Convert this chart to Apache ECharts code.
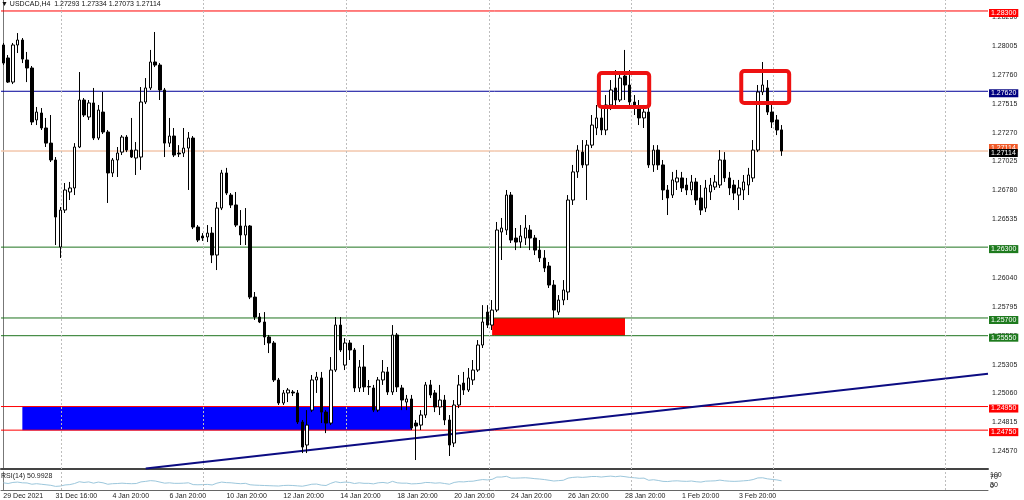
<!DOCTYPE html>
<html><head><meta charset="utf-8">
<script src="https://cdn.jsdelivr.net/npm/echarts@6/dist/echarts.min.js"></script>
<style>html,body{margin:0;padding:0;background:#fff}#c{width:1024px;height:500px}</style>
</head><body><div id="c"></div>
<script>
// [open, close, low, high] per H4 bar
const ohlc = [
[1.28012,1.27859,1.27842,1.28029],[1.27902,1.27698,1.27690,1.27927],[1.27698,1.28012,1.27681,1.28029],[1.28012,1.28054,1.27944,1.28113],
[1.28054,1.27893,1.27859,1.28071],[1.27885,1.27817,1.27698,1.27953],[1.27817,1.27360,1.27334,1.27834],[1.27377,1.27444,1.27334,1.27487],
[1.27436,1.27309,1.27292,1.27478],[1.27309,1.27181,1.27148,1.27394],[1.27181,1.27038,1.27021,1.27419],[1.27038,1.26555,1.26318,1.27063],
[1.26301,1.26614,1.26208,1.26640],[1.26614,1.26784,1.26589,1.26843],[1.26767,1.26801,1.26699,1.26852],[1.26801,1.27148,1.26741,1.27181],
[1.27148,1.27546,1.27139,1.27783],[1.27546,1.27419,1.27402,1.27563],[1.27402,1.27521,1.27377,1.27546],[1.27521,1.27224,1.27207,1.27648],
[1.27224,1.27461,1.27207,1.27504],[1.27444,1.27275,1.27258,1.27614],[1.27275,1.26928,1.26674,1.27292],[1.26928,1.27038,1.26894,1.27055],
[1.27038,1.27097,1.26894,1.27148],[1.27105,1.27232,1.27080,1.27249],[1.27232,1.27122,1.27105,1.27249],[1.27122,1.27063,1.27055,1.27394],
[1.27055,1.27122,1.26911,1.27190],[1.27063,1.27529,1.26954,1.27656],[1.27529,1.27648,1.27512,1.27732],[1.27648,1.27868,1.27631,1.27970],
[1.27868,1.27842,1.27825,1.28122],[1.27842,1.27631,1.27546,1.27859],[1.27631,1.27181,1.27063,1.27648],[1.27181,1.27241,1.27148,1.27394],
[1.27241,1.27080,1.27063,1.27309],[1.27097,1.27089,1.27063,1.27164],[1.27097,1.27139,1.27063,1.27309],[1.27139,1.27224,1.26784,1.27275],
[1.27224,1.26470,1.26453,1.27241],[1.26470,1.26360,1.26343,1.26487],[1.26394,1.26377,1.26352,1.26419],[1.26386,1.26419,1.26343,1.26487],
[1.26419,1.26233,1.26165,1.26470],[1.26233,1.26631,1.26106,1.26682],[1.26631,1.26928,1.26614,1.26954],[1.26928,1.26758,1.26741,1.26971],
[1.26741,1.26657,1.26631,1.26758],[1.26657,1.26487,1.26470,1.26767],[1.26479,1.26403,1.26318,1.26614],[1.26403,1.26479,1.26318,1.26631],
[1.26479,1.25877,1.25860,1.26487],[1.25877,1.25708,1.25683,1.25920],[1.25708,1.25666,1.25657,1.25742],[1.25666,1.25539,1.25471,1.25750],
[1.25539,1.25488,1.25403,1.25556],[1.25488,1.25175,1.25158,1.25505],[1.25175,1.24980,1.24963,1.25192],[1.24980,1.25065,1.24963,1.25090],
[1.25065,1.25090,1.24988,1.25107],[1.25073,1.25065,1.25039,1.25090],[1.25065,1.24819,1.24802,1.25090],[1.24819,1.24607,1.24556,1.24836],
[1.24624,1.24793,1.24556,1.24920],[1.24920,1.25175,1.24903,1.25217],[1.25175,1.25200,1.25065,1.25243],[1.25192,1.24903,1.24810,1.25243],
[1.24903,1.24810,1.24725,1.24920],[1.24810,1.25259,1.24793,1.25369],[1.25259,1.25640,1.25243,1.25708],[1.25640,1.25429,1.25412,1.25708],
[1.25301,1.25488,1.25259,1.25530],[1.25488,1.25429,1.25344,1.25513],[1.25429,1.25107,1.25073,1.25446],[1.25107,1.25285,1.25073,1.25344],
[1.25285,1.25116,1.25073,1.25471],[1.25116,1.25120,1.25048,1.25175],[1.25107,1.24920,1.24903,1.25133],[1.24920,1.25175,1.24903,1.25200],
[1.25175,1.25243,1.25133,1.25344],[1.25243,1.25073,1.25048,1.25285],[1.25073,1.25556,1.25048,1.25640],[1.25556,1.25116,1.25073,1.25573],
[1.25107,1.25005,1.24920,1.25133],[1.24988,1.25014,1.24920,1.25048],[1.25014,1.24768,1.24751,1.25048],[1.24810,1.24785,1.24497,1.24836],
[1.24793,1.24878,1.24751,1.24920],[1.24878,1.25133,1.24853,1.25158],[1.25133,1.25048,1.25022,1.25175],[1.25065,1.24946,1.24903,1.25090],
[1.24946,1.25005,1.24878,1.25133],[1.25005,1.24836,1.24793,1.25048],[1.24836,1.24624,1.24531,1.24878],[1.24641,1.24963,1.24607,1.25005],
[1.24963,1.25133,1.24937,1.25217],[1.25149,1.25090,1.25048,1.25243],[1.25090,1.25192,1.25073,1.25276],[1.25175,1.25259,1.25133,1.25344],
[1.25259,1.25471,1.25243,1.25513],[1.25471,1.25666,1.25446,1.25809],[1.25750,1.25640,1.25615,1.25809],[1.25640,1.25767,1.25598,1.25852],
[1.25767,1.26445,1.25750,1.26513],[1.26428,1.26462,1.26191,1.26547],[1.26445,1.26741,1.26403,1.26784],[1.26741,1.26360,1.26335,1.26767],
[1.26377,1.26343,1.26275,1.26462],[1.26343,1.26394,1.26293,1.26487],[1.26377,1.26462,1.26318,1.26572],[1.26445,1.26377,1.26275,1.26487],
[1.26377,1.26275,1.26233,1.26403],[1.26275,1.26208,1.26174,1.26360],[1.26208,1.26123,1.26089,1.26275],[1.26140,1.25979,1.25954,1.26174],
[1.25979,1.25767,1.25700,1.26021],[1.25750,1.25852,1.25725,1.25894],[1.25852,1.25937,1.25809,1.26021],[1.25920,1.26699,1.25852,1.26741],
[1.26699,1.26937,1.26657,1.26996],[1.26937,1.27122,1.26886,1.27164],[1.27105,1.26996,1.26971,1.27207],[1.26996,1.27164,1.26699,1.27207],
[1.27164,1.27334,1.27139,1.27419],[1.27309,1.27394,1.27249,1.27504],[1.27394,1.27292,1.27249,1.27478],[1.27292,1.27504,1.27249,1.27588],
[1.27504,1.27631,1.27461,1.27715],[1.27648,1.27546,1.27504,1.27800],[1.27546,1.27732,1.27529,1.27783],[1.27749,1.27673,1.27546,1.27970],
[1.27673,1.27529,1.27478,1.27800],[1.27529,1.27478,1.27419,1.27588],[1.27478,1.27394,1.27334,1.27546],[1.27394,1.27444,1.27309,1.27504],
[1.27444,1.26996,1.26971,1.27478],[1.26996,1.27122,1.26937,1.27164],[1.27122,1.26996,1.26954,1.27164],[1.26996,1.26784,1.26699,1.27038],
[1.26784,1.26716,1.26572,1.26826],[1.26741,1.26869,1.26716,1.26937],[1.26852,1.26886,1.26784,1.26954],[1.26886,1.26801,1.26767,1.26937],
[1.26826,1.26784,1.26741,1.26886],[1.26784,1.26852,1.26741,1.26911],[1.26852,1.26699,1.26657,1.26886],[1.26716,1.26614,1.26572,1.26826],
[1.26631,1.26801,1.26597,1.26869],[1.26767,1.26826,1.26699,1.26886],[1.26809,1.26852,1.26784,1.26911],[1.26826,1.27038,1.26801,1.27122],
[1.27038,1.26886,1.26852,1.27105],[1.26886,1.26801,1.26741,1.26937],[1.26826,1.26758,1.26699,1.26869],[1.26741,1.26801,1.26614,1.26869],
[1.26784,1.26852,1.26699,1.26911],[1.26826,1.26911,1.26741,1.26971],[1.26886,1.27122,1.26852,1.27207],[1.27122,1.27614,1.27105,1.27673],
[1.27614,1.27673,1.27588,1.27868],[1.27648,1.27444,1.27419,1.27715],[1.27444,1.27360,1.27309,1.27504],[1.27377,1.27292,1.27249,1.27419],
[1.27293,1.27114,1.27073,1.27334]
];
const rsi = [
40,36,42,44,40,39,32,35,32,29,26, 20,22,28,30,36, 46,42,45,38,44,40, 32,35,36,38,36,35,36,
45,48,52,50,44, 38,40,37,37,38,40, 30,29,30,31,28, 38,44,41,40,37,35,37,
29,27,26,25,24,23,22, 25,26,25,23,21,26, 32,33,27,25,37,46,41,44,
42,36,40,37,37,34,40,42,38, 48,40,38,38,34,35,37,42,41,38, 40,36,32,42,46,45,48,49,54,
58,56,59,72,72,76,66, 66,67,68,66,63,61,58,54,50, 52,54,66,70,72,70,72,75,
75,72,75,77,74,77,74,70,68,65,66, 54,57,53,48,47,50,51,49,48,50,
46,44,49,50,51,55,51,49,48,49,51,53, 58,67,68,62,59,56,51
];
const slotCount = 208;
const timeLabels = [[0,'29 Dec 2021'],[11,'31 Dec 16:00'],[23,'4 Jan 20:00'],[35,'6 Jan 20:00'],[47,'10 Jan 20:00'],
  [59,'12 Jan 20:00'],[71,'14 Jan 20:00'],[83,'18 Jan 20:00'],[95,'20 Jan 20:00'],[107,'24 Jan 20:00'],
  [119,'26 Jan 20:00'],[131,'28 Jan 20:00'],[143,'1 Feb 20:00'],[155,'3 Feb 20:00']];
const priceTicks = [1.28250,1.28005,1.27760,1.27515,1.27270,1.27025,1.26780,1.26535,1.26290,1.26040,1.25795,1.25550,1.25305,1.25060,1.24815,1.24570];
const rsiInnerTicks = [30,70];
const rsiEdgeTicks = [0,100];
const redLevels = [1.28300,1.24950,1.24750];
const navyLevels = [1.27620];
const greenLevels = [1.26300,1.25700,1.25550];
const bidPrice = 1.27114;
const blueZone = [[4,1.24950],[86,1.24750]];
const redZone = [[103,1.25700],[131,1.25550]];
const boxes = [[125.5,1.27775,136.1,1.27487],[155.5,1.27792,165.6,1.27521]];
const trend = [[30,1.24425],[207.5,1.25228]];
const gridBars = [12.1,42.1,72.3,102.3,132.3,162.2,198.4];
const yMin = 1.24421, yMax = 1.28393;

const F = '"Liberation Sans", Arial, sans-serif';
const cats = Array.from({length: slotCount}, (_, i) => String(i));
const labelMap = new Map(timeLabels);

function levelSeries(v, lineColor, bg, off, z) {
  return {type: 'line', xAxisIndex: 1, yAxisIndex: 0, z: z, silent: true, showSymbol: false, symbol: 'none',
    data: [[-0.5, v], [slotCount - 0.5, v]],
    lineStyle: {color: lineColor, width: 1},
    endLabel: {show: true, formatter: v.toFixed(5), color: '#fff', backgroundColor: bg,
      fontSize: 7, fontFamily: F, padding: [1, 2, 0, 2], distance: 1, offset: [0, off]}};
}
const levelSeriesList = [].concat(
  [levelSeries(bidPrice, '#f3c7ad', '#f05a28', -3, 2)],
  [levelSeries(bidPrice, '#f3c7ad', '#000000', 2, 2)],
  redLevels.map(v => levelSeries(v, '#ff0000', '#ff0000', 2, 2)),
  navyLevels.map(v => levelSeries(v, '#000099', '#000080', 2, 2)),
  greenLevels.map(v => levelSeries(v, '#1f741f', '#1e7b1e', 2, 2))
);

const chart = echarts.init(document.getElementById('c'));
chart.setOption({
  animation: false,
  backgroundColor: '#ffffff',
  textStyle: {fontFamily: F},
  grid: [
    {left: 1, right: 36, top: 0, height: 469},
    {left: 1, right: 36, top: 472, height: 18}
  ],
  xAxis: [
    {type: 'category', gridIndex: 0, data: cats, boundaryGap: true,
      axisLine: {show: true, lineStyle: {color: '#444', width: 2}}, axisTick: {show: false}, axisLabel: {show: false}, splitLine: {show: false}},
    {type: 'value', gridIndex: 0, min: -0.5, max: slotCount - 0.5, show: false},
    {type: 'category', gridIndex: 1, data: cats, boundaryGap: true,
      axisLine: {show: true, lineStyle: {color: '#666', width: 1}}, axisTick: {show: false}, splitLine: {show: false},
      axisLabel: {interval: (i) => labelMap.has(i), formatter: (v) => labelMap.get(Number(v)) || '',
        align: 'left', margin: 3, fontSize: 7, color: '#222', fontFamily: F}},
    {type: 'value', gridIndex: 1, min: -0.5, max: slotCount - 0.5, show: false}
  ],
  yAxis: [
    {type: 'value', gridIndex: 0, position: 'right', min: yMin, max: yMax,
      axisLine: {show: true, lineStyle: {color: '#777'}}, axisTick: {show: false}, splitLine: {show: false},
      axisLabel: {customValues: priceTicks, formatter: (v) => v.toFixed(5), fontSize: 7, margin: 4, color: '#222', fontFamily: F}},
    {type: 'value', gridIndex: 1, position: 'right', min: 0, max: 100,
      axisLine: {show: true, lineStyle: {color: '#777'}}, axisTick: {show: false}, splitLine: {show: false},
      axisLabel: {customValues: rsiInnerTicks, fontSize: 7, margin: 2, color: '#222', fontFamily: F}},
    {type: 'value', gridIndex: 1, position: 'right', min: 0, max: 100,
      axisLine: {show: false}, axisTick: {show: false}, splitLine: {show: false},
      axisLabel: {customValues: rsiEdgeTicks, showMinLabel: true, showMaxLabel: true, fontSize: 7, margin: 2, color: '#222', fontFamily: F,
        verticalAlignMinLabel: 'bottom', verticalAlignMaxLabel: 'top'}}
  ],
  series: [
    {type: 'line', xAxisIndex: 1, yAxisIndex: 0, data: [], z: 1, silent: true,
      markLine: {symbol: ['none', 'none'], silent: true, animation: false, label: {show: false},
        lineStyle: {color: '#bdbdbd', type: [2, 2], width: 1}, data: gridBars.map(b => ({xAxis: b}))}},
    {type: 'line', xAxisIndex: 3, yAxisIndex: 1, data: [], z: 1, silent: true,
      markLine: {symbol: ['none', 'none'], silent: true, animation: false, label: {show: false},
        lineStyle: {color: '#bdbdbd', type: [2, 2], width: 1}, data: gridBars.map(b => ({xAxis: b}))}},
    {type: 'line', xAxisIndex: 1, yAxisIndex: 0, data: trend, z: 3, showSymbol: false, silent: true,
      lineStyle: {color: '#0c0c82', width: 2},
      markArea: {silent: true, animation: false, data: [
        [{xAxis: blueZone[0][0], yAxis: blueZone[0][1], itemStyle: {color: '#0000ff', opacity: 1}}, {xAxis: blueZone[1][0], yAxis: blueZone[1][1]}],
        [{xAxis: redZone[0][0], yAxis: redZone[0][1], itemStyle: {color: '#ff0000', opacity: 1}}, {xAxis: redZone[1][0], yAxis: redZone[1][1]}]
      ]}},
    ...levelSeriesList,
    {type: 'candlestick', xAxisIndex: 0, yAxisIndex: 0, data: ohlc, z: 5, barWidth: 3, silent: true, large: false,
      itemStyle: {color: '#ffffff', color0: '#000000', borderColor: '#000000', borderColor0: '#000000', borderWidth: 1}},
    {type: 'custom', xAxisIndex: 1, yAxisIndex: 0, data: boxes, z: 10, silent: true, clip: false,
      renderItem: (params, api) => {
        const a = api.coord([api.value(0), api.value(1)]);
        const b = api.coord([api.value(2), api.value(3)]);
        return {type: 'rect', shape: {x: Math.min(a[0], b[0]), y: Math.min(a[1], b[1]),
          width: Math.abs(b[0] - a[0]), height: Math.abs(b[1] - a[1]), r: 3},
          style: {fill: 'none', stroke: '#ee1111', lineWidth: 4}};
      }},
    {type: 'line', xAxisIndex: 2, yAxisIndex: 1, data: rsi, z: 3, showSymbol: false, silent: true,
      lineStyle: {color: '#9cc7dc', width: 1}}
  ],
  graphic: [
    {type: 'text', left: 1, top: 1, z: 20, style: {text: '\u25BC USDCAD,H4  1.27293 1.27334 1.27073 1.27114', fontSize: 7, fontFamily: F, fill: '#111'}},
    {type: 'text', left: 1, top: 473, z: 20, style: {text: 'RSI(14) 50.9928', fontSize: 7, fontFamily: F, fill: '#222'}}
  ]
});
</script>
</body></html>
